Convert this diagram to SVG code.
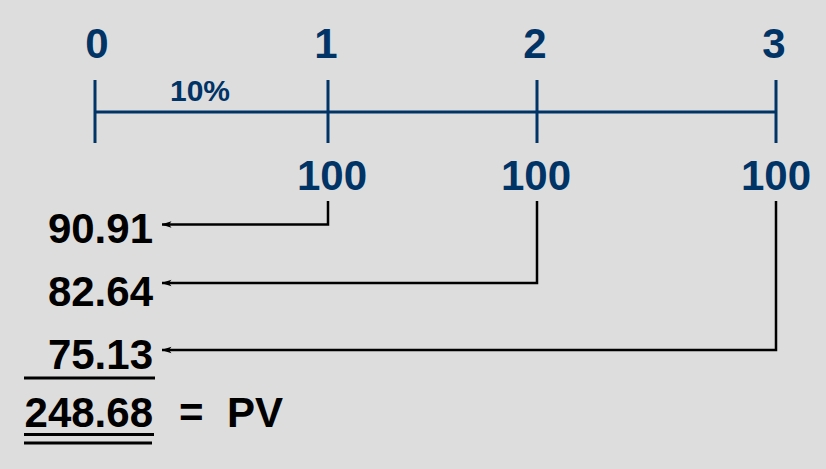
<svg xmlns="http://www.w3.org/2000/svg" width="826" height="469" viewBox="0 0 826 469">
  <style>
    .blue { fill: #003366; font-family: "Liberation Sans", Arial, sans-serif; font-weight: bold; }
    .black { fill: #000000; font-family: "Liberation Sans", Arial, sans-serif; font-weight: bold; }
    .axis { stroke: #003366; stroke-width: 3; fill: none; }
    .conn { stroke: #000000; stroke-width: 2.5; fill: none; }
    .rule { stroke: #000000; stroke-width: 3; }
  </style>
  <defs>
    <marker id="arrow" viewBox="0 0 10 8" refX="9.5" refY="4" markerWidth="10" markerHeight="8" markerUnits="userSpaceOnUse" orient="auto">
      <path d="M0,0.8 L10,4 L0,7.2 L2.5,4 Z" fill="#000000"/>
    </marker>
  </defs>
  <rect x="0" y="0" width="826" height="469" fill="#dddddd"/>

  <g id="timeline">
    <line class="axis" x1="95" y1="112" x2="776" y2="112"/>
    <line class="axis" x1="95" y1="80" x2="95" y2="143"/>
    <line class="axis" x1="328" y1="80" x2="328" y2="143"/>
    <line class="axis" x1="537" y1="80" x2="537" y2="143"/>
    <line class="axis" x1="776" y1="80" x2="776" y2="143"/>
    <text class="blue" x="97" y="58" font-size="42" text-anchor="middle">0</text>
    <text class="blue" x="326" y="58" font-size="42" text-anchor="middle">1</text>
    <text class="blue" x="535" y="58" font-size="42" text-anchor="middle">2</text>
    <text class="blue" x="774" y="58" font-size="42" text-anchor="middle">3</text>
    <text class="blue" x="200" y="101" font-size="30" text-anchor="middle">10%</text>
  </g>

  <g id="cf1"><text class="blue" x="332" y="190" font-size="42" text-anchor="middle">100</text></g>
  <g id="cf2"><text class="blue" x="536" y="190" font-size="42" text-anchor="middle">100</text></g>
  <g id="cf3"><text class="blue" x="776" y="190" font-size="42" text-anchor="middle">100</text></g>

  <g id="connectors">
    <path class="conn" d="M328,201 V224.5 H162" marker-end="url(#arrow)"/>
    <path class="conn" d="M537,201 V283 H162" marker-end="url(#arrow)"/>
    <path class="conn" d="M776,201 V350 H162" marker-end="url(#arrow)"/>
  </g>

  <g id="pv1"><text class="black" x="153" y="243" font-size="42" text-anchor="end">90.91</text></g>
  <g id="pv2"><text class="black" x="153" y="306" font-size="42" text-anchor="end">82.64</text></g>
  <g id="pv3"><text class="black" x="153" y="369" font-size="42" text-anchor="end">75.13</text></g>
  <line class="rule" x1="24" y1="378" x2="155" y2="378"/>
  <g id="total">
    <text class="black" x="153" y="427" font-size="42" text-anchor="end">248.68</text>
    <text class="black" x="179" y="427" font-size="42">=</text>
    <text class="black" x="227" y="427" font-size="42">PV</text>
  </g>
  <line class="rule" x1="24" y1="434.5" x2="154" y2="434.5"/>
  <line class="rule" x1="24" y1="443" x2="152" y2="443"/>
</svg>
